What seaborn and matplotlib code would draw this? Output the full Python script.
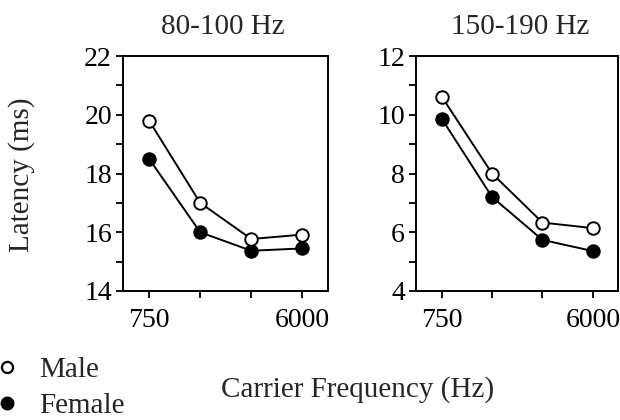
import numpy as np
import pandas as pd
import seaborn as sns
import matplotlib
matplotlib.use("Agg")
import matplotlib.pyplot as plt
from matplotlib.lines import Line2D

# ---- data ----
freqs = [750, 1500, 3000, 6000]
panel_titles = ["80-100 Hz", "150-190 Hz"]
male_80_100 = [19.8, 17.0, 15.77, 15.92]
female_80_100 = [18.5, 16.0, 15.37, 15.45]
male_150_190 = [10.62, 8.0, 6.33, 6.14]
female_150_190 = [9.87, 7.2, 5.74, 5.36]
xtick_labels = ["750", "", "", "6000"]
ylims = [(14, 22), (4, 12)]
ymajor = [[14, 16, 18, 20, 22], [4, 6, 8, 10, 12]]
yminor = [[15, 17, 19, 21], [5, 7, 9, 11]]

FS = 21
sns.set_theme(style="ticks")
plt.rcParams["font.family"] = ["Liberation Serif", "DejaVu Serif"]
plt.rcParams["font.size"] = FS

fig = plt.figure(figsize=(6.2, 4.2), dpi=100)
W, H = 620, 420
def box(l, r, t, b):
    return [l / W, 1 - b / H, (r - l) / W, (b - t) / H]

axes = [fig.add_axes(box(123, 328, 56, 291)), fig.add_axes(box(416, 618, 56, 291))]
data_sets = [(male_80_100, female_80_100), (male_150_190, female_150_190)]
centers = [223, 520]

for i, ax in enumerate(axes):
    male, female = data_sets[i]
    df = pd.DataFrame({"freq": freqs * 2, "lat": male + female,
                       "sex": ["Male"] * 4 + ["Female"] * 4})
    for sex, fc in [("Male", "white"), ("Female", "black")]:
        sub = df[df["sex"] == sex]
        sns.lineplot(data=sub, x="freq", y="lat", ax=ax, color="black",
                     marker="o", markersize=9, markerfacecolor=fc,
                     markeredgecolor="black", markeredgewidth=1.4,
                     linewidth=1.4, zorder=3 if sex == "Male" else 2)
    ax.set_xscale("log")
    ax.set_xlim(750 * 2 ** -0.51, 6000 * 2 ** 0.5)
    ax.set_xticks(freqs)
    ax.set_xticklabels(xtick_labels)
    ax.xaxis.set_minor_locator(matplotlib.ticker.NullLocator())
    ax.set_ylim(*ylims[i])
    ax.set_yticks(ymajor[i])
    ax.set_yticks(yminor[i], minor=True)
    ax.tick_params(axis="both", which="both", direction="out", length=5,
                   width=1.3, color="black", labelsize=20, labelcolor="black")
    ax.tick_params(axis="x", pad=7)
    ax.tick_params(axis="y", pad=3)
    for s in ax.spines.values():
        s.set_visible(True)
        s.set_linewidth(1.4)
        s.set_color("black")
    ax.set_xlabel("")
    ax.set_ylabel("")
    ax.set_facecolor("white")
    fig.text(centers[i] / W, 1 - 34 / H, panel_titles[i], ha="center",
             va="baseline", fontsize=FS)

fig.text(22 / W, 1 - 175 / H, "Latency (ms)", rotation=90, ha="center",
         va="center", fontsize=FS)
fig.text(358 / W, 1 - 397 / H, "Carrier Frequency (Hz)", ha="center",
         va="baseline", fontsize=FS)

handles = [Line2D([], [], ls="none", marker="o", markersize=8,
                  markerfacecolor="white", markeredgecolor="black",
                  markeredgewidth=1.6),
           Line2D([], [], ls="none", marker="o", markersize=9,
                  markerfacecolor="black", markeredgecolor="black",
                  markeredgewidth=1.0)]
fig.legend(handles, ["Male", "Female"], loc="center left",
           bbox_to_anchor=(0.0, 1 - 388 / H), frameon=False,
           borderpad=0, borderaxespad=0, handlelength=0.48,
           handletextpad=0.86, labelspacing=0.34, fontsize=FS)

fig.savefig("out.png", dpi=100, facecolor="white")
